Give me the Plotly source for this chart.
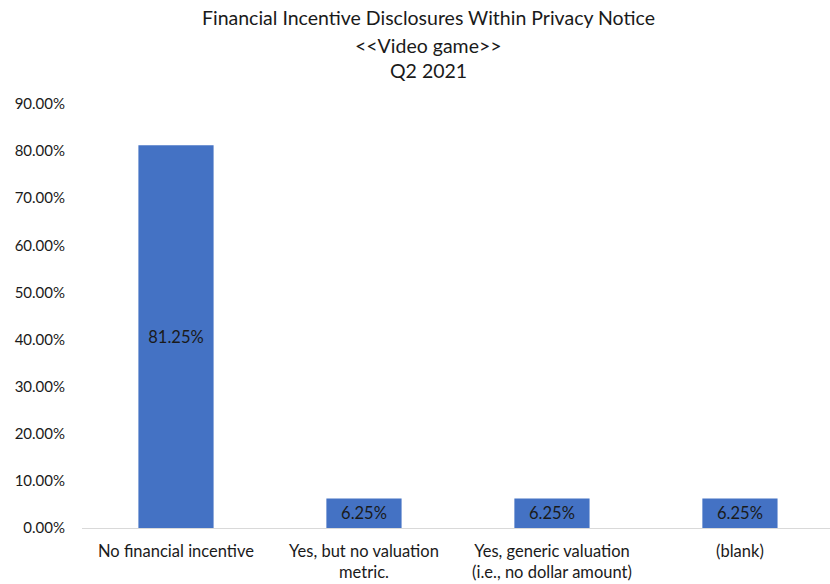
import plotly.graph_objects as go

categories = [
    "No financial incentive",
    "Yes, but no valuation<br>metric.",
    "Yes, generic valuation<br>(i.e., no dollar amount)",
    "(blank)",
]
shares = [0.8125, 0.0625, 0.0625, 0.0625]
y_ticks = [0.0, 0.1, 0.2, 0.3, 0.4, 0.5, 0.6, 0.7, 0.8, 0.9]
title_lines = [
    "Financial Incentive Disclosures Within Privacy Notice",
    "&lt;&lt;Video game&gt;&gt;",
    "Q2 2021",
]

FONT = "Lato"
x_pos = list(range(len(categories)))

fig = go.Figure(
    go.Bar(
        x=x_pos,
        y=shares,
        width=0.4,
        marker=dict(color="#4472C4", line=dict(width=0)),
        text=[f"{v * 100:.2f}%" for v in shares],
        textposition="inside",
        insidetextanchor="middle",
        textangle=0,
        textfont=dict(family=FONT, size=16.5, color="#1a1a1a"),
        hoverinfo="skip",
    )
)

# three centred title lines above the plot area
for line, yp in zip(title_lines, [1.203, 1.139, 1.080]):
    fig.add_annotation(
        text=line,
        xref="paper",
        yref="paper",
        x=0.463,
        y=yp,
        xanchor="center",
        yanchor="middle",
        showarrow=False,
        font=dict(family=FONT, size=19.5, color="#1a1a1a"),
    )

fig.update_layout(
    width=830,
    height=584,
    margin=dict(l=82, r=0, t=104, b=56),
    paper_bgcolor="white",
    plot_bgcolor="white",
    showlegend=False,
    font=dict(family=FONT, size=15, color="#262626"),
    xaxis=dict(
        range=[-0.5, 3.479],
        tickmode="array",
        tickvals=x_pos,
        ticktext=categories,
        showgrid=False,
        zeroline=False,
        showline=True,
        linecolor="#D9D9D9",
        linewidth=1,
        ticks="",
        ticklabelstandoff=8,
        tickfont=dict(family=FONT, size=16.5, color="#1a1a1a"),
    ),
    yaxis=dict(
        range=[0, 0.9],
        tickmode="array",
        tickvals=y_ticks,
        ticktext=[f"{v * 100:.2f}%" for v in y_ticks],
        showgrid=False,
        zeroline=False,
        showline=False,
        ticks="",
        ticklabelstandoff=16,
        tickfont=dict(family=FONT, size=15, color="#1a1a1a"),
    ),
)

fig.write_html("out.html")
